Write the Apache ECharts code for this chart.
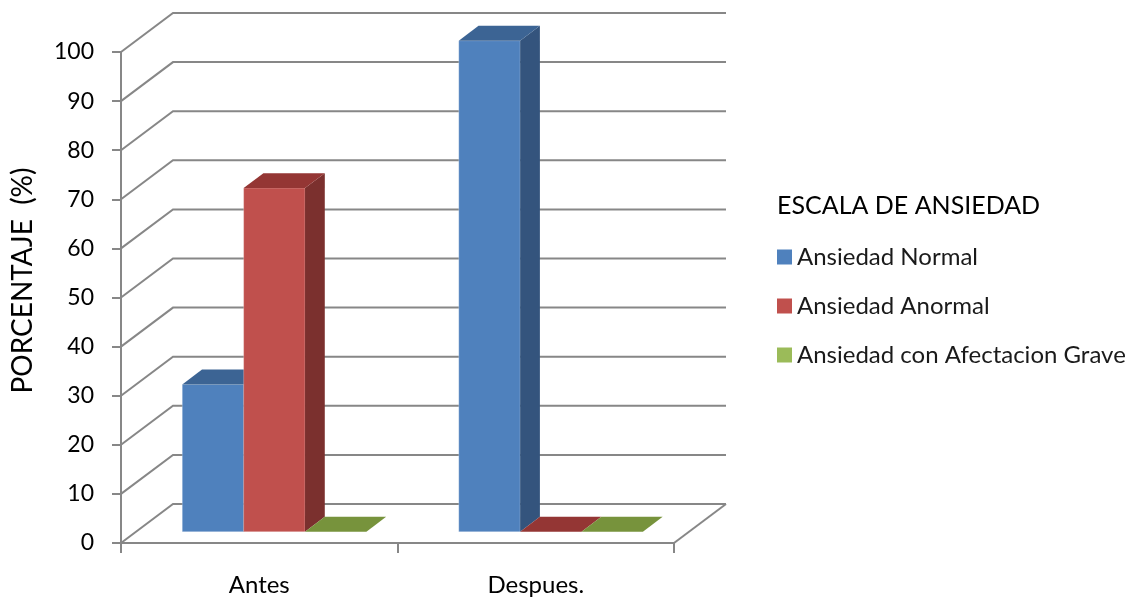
<!DOCTYPE html>
<html>
<head>
<meta charset="utf-8">
<script src="https://cdn.jsdelivr.net/npm/echarts@6/dist/echarts.min.js"></script>
<style>
  html, body { margin: 0; padding: 0; background: #ffffff; }
  #chart { width: 1146px; height: 601px; }
</style>
</head>
<body>
<div id="chart"></div>
<script>
// Categories, series and tick values
const categories = ['Antes', 'Despues.'];
const seriesNames = ['Ansiedad Normal', 'Ansiedad Anormal', 'Ansiedad con Afectacion Grave'];
const ansiedadNormal = [30, 100];
const ansiedadAnormal = [70, 0];
const ansiedadGrave = [0, 0];
const yTicks = [0, 10, 20, 30, 40, 50, 60, 70, 80, 90, 100];
const legendTitle = 'ESCALA DE ANSIEDAD';
const yAxisTitle = 'PORCENTAJE  (%)';

const seriesValues = [ansiedadNormal, ansiedadAnormal, ansiedadGrave];

// Shading of each bar: front face, top face, side face
const palette = [
  { front: '#4F81BD', top: '#3C6494', side: '#34547D' },
  { front: '#C0504D', top: '#943634', side: '#7B302E' },
  { front: '#9BBB59', top: '#77933C', side: '#66802F' }
];

// Perspective of the box: pixel offset of the back wall relative to the front plane
const WALL_DX = 52, WALL_DY = -39;
// Bars sit between these fractions of the box depth
const BAR_NEAR = 0.29, BAR_FAR = 0.67;
// Width of one bar as a fraction of a category band
const BAR_FRACTION = 0.222;
const GRID_COLOR = '#878787';
const FONT = 'Lato, "Noto Sans", sans-serif';

// Side walls and floor: one diagonal + back line per y tick
function renderWalls(params, api) {
  const cs = params.coordSys;
  const v = api.value(1);
  const y = api.coord([0, v])[1];
  const left = cs.x, right = cs.x + cs.width;
  const lineStyle = { stroke: GRID_COLOR, lineWidth: 2, fill: null };
  const children = [{
    type: 'polyline',
    shape: { points: [[left, y], [left + WALL_DX, y + WALL_DY], [right + WALL_DX, y + WALL_DY]] },
    style: lineStyle
  }];
  if (v === yTicks[0]) {
    children.push({
      type: 'line',
      shape: { x1: right, y1: y, x2: right + WALL_DX, y2: y + WALL_DY },
      style: lineStyle
    });
  }
  return { type: 'group', children };
}

// Extruded bar: front face, right side face, top face
function barRenderer(idx) {
  return function (params, api) {
    const cat = api.value(0), val = api.value(1);
    const c0 = api.coord([cat, 0]);
    const c1 = api.coord([cat, val]);
    const bw = api.size([1, 0])[0] * BAR_FRACTION;
    const nx = WALL_DX * BAR_NEAR, ny = WALL_DY * BAR_NEAR;
    const dx = WALL_DX * (BAR_FAR - BAR_NEAR), dy = WALL_DY * (BAR_FAR - BAR_NEAR);
    const xL = c0[0] + (idx - 1.5) * bw + nx;
    const xR = xL + bw;
    const yB = c0[1] + ny, yT = c1[1] + ny;
    const col = palette[idx];
    const children = [];
    if (yB - yT > 0.5) {
      children.push({
        type: 'polygon',
        shape: { points: [[xL, yT], [xR, yT], [xR, yB], [xL, yB]] },
        style: { fill: col.front, stroke: 'rgba(255,255,255,0.25)', lineWidth: 1 }
      });
      children.push({
        type: 'polygon',
        shape: { points: [[xR, yT], [xR + dx, yT + dy], [xR + dx, yB + dy], [xR, yB]] },
        style: { fill: col.side }
      });
    }
    children.push({
      type: 'polygon',
      shape: { points: [[xL, yT], [xR, yT], [xR + dx, yT + dy], [xL + dx, yT + dy]] },
      style: { fill: col.top }
    });
    return { type: 'group', children };
  };
}

const chart = echarts.init(document.getElementById('chart'), null, { renderer: 'canvas' });

const barSeries = seriesNames.map((name, i) => ({
  name,
  type: 'custom',
  coordinateSystem: 'cartesian2d',
  renderItem: barRenderer(i),
  clip: false,
  itemStyle: { color: palette[i].front },
  encode: { x: 0, y: 1 },
  data: seriesValues[i].map((v, c) => [c, v]),
  z: 3
}));

chart.setOption({
  animation: false,
  backgroundColor: '#ffffff',
  textStyle: { fontFamily: FONT },
  title: {
    text: legendTitle,
    left: 777,
    top: 191,
    padding: 0,
    textStyle: { fontFamily: FONT, fontSize: 25, lineHeight: 30, fontWeight: 'normal', color: '#000000' }
  },
  legend: {
    data: seriesNames,
    orient: 'vertical',
    left: 777,
    top: 243,
    padding: 0,
    icon: 'rect',
    itemWidth: 15,
    itemHeight: 15,
    itemGap: 21,
    selectedMode: false,
    textStyle: { fontFamily: FONT, fontSize: 24, color: '#1a1a1a', lineHeight: 28 }
  },
  grid: { left: 121, top: 52, width: 553, height: 491, containLabel: false },
  xAxis: {
    type: 'category',
    data: categories,
    boundaryGap: true,
    axisLine: { show: true, lineStyle: { color: GRID_COLOR, width: 2 } },
    axisTick: { show: true, length: 10, lineStyle: { color: GRID_COLOR, width: 2 } },
    axisLabel: { margin: 30, fontFamily: FONT, fontSize: 24, color: '#000000' },
    splitLine: { show: false }
  },
  yAxis: {
    type: 'value',
    min: 0,
    max: 100,
    interval: 10,
    name: yAxisTitle,
    nameLocation: 'middle',
    nameGap: 84,
    nameTextStyle: { fontFamily: FONT, fontSize: 28, color: '#000000', padding: [0, 0, 0, 34] },
    axisLine: { show: true, lineStyle: { color: GRID_COLOR, width: 2 } },
    axisTick: { show: true, length: 9, lineStyle: { color: GRID_COLOR, width: 2 } },
    axisLabel: { margin: 27, fontFamily: FONT, fontSize: 23, color: '#000000' },
    splitLine: { show: false }
  },
  series: [
    {
      name: 'walls',
      type: 'custom',
      coordinateSystem: 'cartesian2d',
      renderItem: renderWalls,
      clip: false,
      silent: true,
      encode: { x: 0, y: 1 },
      data: yTicks.map(v => [0, v]),
      z: 1
    }
  ].concat(barSeries)
});
</script>
</body>
</html>
